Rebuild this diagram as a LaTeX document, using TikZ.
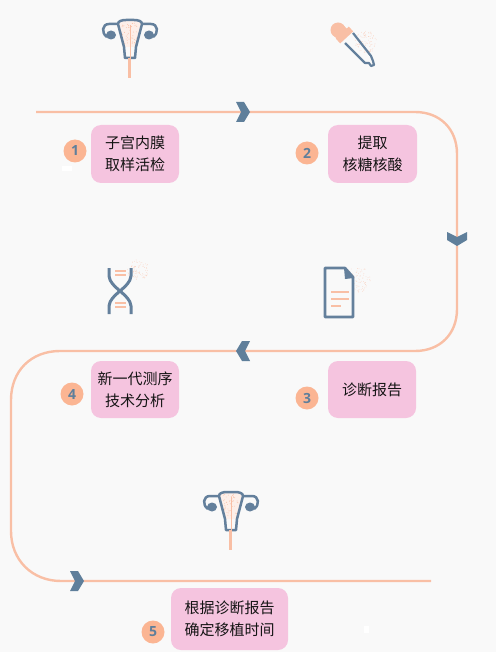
\documentclass[tikz,border=0pt]{standalone}
\usepackage{fontspec}
\setmainfont{Noto Sans CJK SC}
\newfontfamily\numfont{Open Sans}
\definecolor{bgc}{HTML}{F9F9F9}
\definecolor{pinkbox}{HTML}{F5C4DF}
\definecolor{peach}{HTML}{F9BFA5}
\definecolor{numfill}{HTML}{FBB593}
\definecolor{slate}{HTML}{5F7F9B}
\definecolor{iconline}{HTML}{64809C}
\definecolor{txt}{HTML}{141414}
\tikzset{
  x=1pt,y=-1pt,
  stepbox/.style={fill=pinkbox,rounded corners=10pt,align=center,inner sep=0pt,font=\fontsize{15}{22}\selectfont,text=txt,anchor=center},
  numdot/.style={circle,fill=numfill,minimum size=23pt,inner sep=0pt,text=slate,font=\numfont\bfseries\fontsize{14}{14}\selectfont},
  road/.style={draw=peach,line width=2.4pt},
  icon/.style={draw=iconline,line width=2.5pt,line join=round},
  iconthin/.style={draw=peach,line width=2.4pt},
  pics/chev/.style={code={\fill[slate] (-7,-10) -- (1,-10) -- (7,0) -- (1,10) -- (-7,10) -- (-2,0) -- cycle;}},
  pics/glow/.style={code={
    \foreach \i in {1,...,90}{
      \pgfmathsetmacro{\ang}{rnd*360}
      \pgfmathsetmacro{\rad}{sqrt(rnd)*#1}
      \fill[peach,opacity=0.6] (\ang:\rad) circle[radius=0.4pt];
    }}},
  pics/uterus/.style={code={
    \fill[peach!25] (-10,-14) -- (10,-14) -- (12,-10) -- (6,13) -- (-6,13) -- (-12,-10) -- cycle;
    \foreach \i in {1,...,45}{
      \pgfmathsetmacro{\px}{-8+16*rnd}
      \pgfmathsetmacro{\py}{-12+22*rnd}
      \fill[peach] (\px,\py) circle[radius=0.45pt];
    }
    \draw[icon] (-12,-10) -- (-21,-10) .. controls (-28,-10) and (-29,-1) .. (-23,3);
    \draw[icon] (12,-10) -- (21,-10) .. controls (28,-10) and (29,-1) .. (23,3);
    \fill[iconline] (-19,1) ellipse[x radius=5pt,y radius=4.5pt];
    \fill[iconline] (19,1) ellipse[x radius=5pt,y radius=4.5pt];
    \draw[icon] (-5,24) -- (-6,13) -- (-12,-10) .. controls (-12,-13) and (-8,-14) .. (-4,-14) -- (4,-14) .. controls (8,-14) and (12,-13) .. (12,-10) -- (6,13) -- (5,24) -- cycle;
    \draw[iconthin,line width=1pt] (0,-9) -- (0,24);
    \draw[iconthin,line width=3pt] (-0.5,24) -- (-0.5,44);
  }}
}
\begin{document}
\begin{tikzpicture}
\useasboundingbox[fill=bgc] (0,0) rectangle (496,652);
\pgfmathsetseed{7}

% road
\coordinate (r0) at (36,112);
\coordinate (r1) at (415,112);
\coordinate (r2) at (457,154);
\coordinate (r3) at (457,309);
\coordinate (r4) at (415,351);
\coordinate (r5) at (60,351);
\coordinate (r6) at (11,400);
\coordinate (r7) at (11,531);
\coordinate (r8) at (61,581);
\coordinate (r9) at (431,581);
\draw[road] (r0) -- (r1) .. controls (440,112) and (457,129) .. (r2) -- (r3)
  .. controls (457,334) and (440,351) .. (r4) -- (r5)
  .. controls (31,351) and (11,371) .. (r6) -- (r7)
  .. controls (11,560) and (32,581) .. (r8) -- (r9);

% chevrons
\pic at (243,112) {chev};
\pic[rotate=-90] at (457,239) {chev};
\pic[rotate=180] at (243,351) {chev};
\pic at (77,581) {chev};

% boxes
\node[stepbox,minimum width=88pt,minimum height=58pt] (b1) at (135,154) {子宫内膜\\取样活检};
\node[stepbox,minimum width=89pt,minimum height=58pt] (b2) at (372.5,154) {提取\\核糖核酸};
\node[stepbox,minimum width=88pt,minimum height=57pt] (b3) at (372,389.5) {诊断报告};
\node[stepbox,minimum width=88pt,minimum height=57pt] (b4) at (135,389.5) {新一代测序\\技术分析};
\node[stepbox,minimum width=117pt,minimum height=62pt] (b5) at (229.5,619) {根据诊断报告\\确定移植时间};

% numbers
\node[numdot] (n1) at (75,151) {1};
\node[numdot] (n2) at (307,153) {2};
\node[numdot] (n3) at (307,398) {3};
\node[numdot] (n4) at (72,394) {4};
\node[numdot] (n5) at (153,632) {5};

% small white marks
\fill[white] (62,166) rectangle (72,171);
\fill[white] (364,626) rectangle (369,633);

% uterus icons
\pic at (130,34) {uterus};
\pic at (231,506) {uterus};

% dropper
\pic at (366,42) {glow=11};
\draw[icon,line width=2.2pt] (345,43) -- (365,63) -- (369,63) -- (371,66) -- (374,65) -- (373,61) -- (371,56) -- (353,33);
\fill[peach] (338,30) circle[radius=7.5pt];
\draw[peach,line width=6.5pt] (338,41) -- (351,29);
\fill[peach] (333,35) -- (343,25) -- (349,31) -- (339,41) -- cycle;

% DNA
\pic at (138,270) {glow=11};
\draw[icon,line width=3pt] (109,268) -- (109,276) .. controls (110,288) and (130,294) .. (131,306) -- (131,314);
\draw[icon,line width=3pt] (131,268) -- (131,276) .. controls (130,288) and (110,294) .. (109,306) -- (109,314);
\foreach \y in {271,275,303,307}{\draw[iconthin,line width=2pt] (115,\y) -- (126,\y);}

% document
\pic at (358,280) {glow=13};
\draw[icon,fill=bgc,line width=2.6pt] (325,268) -- (345,268) -- (353,277) -- (353,317) -- (325,317) -- cycle;
\fill[iconline] (344,268) -- (354,278) -- (345,279) -- cycle;
\draw[iconthin] (331,292) -- (349,292);
\draw[iconthin] (331,299) -- (349,299);
\draw[iconthin] (331,306) -- (341,306);
\end{tikzpicture}
\end{document}
